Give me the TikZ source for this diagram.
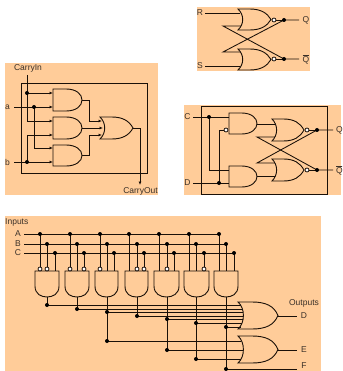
\documentclass[tikz,border=0pt]{standalone}
\usepackage{fontspec}
\setmainfont{Liberation Sans}
\usetikzlibrary{arrows.meta}
\definecolor{panel}{HTML}{FFCC99}
\definecolor{ink}{HTML}{1A1008}
\definecolor{txt}{HTML}{3A3028}
\tikzset{
  wire/.style={draw=ink,line width=0.85pt,line join=miter},
  arrowwire/.style={wire,-{Latex[length=3.5pt,width=3pt]}},
  gateline/.style={draw=ink,line width=0.9pt,fill=panel},
  lab/.style={text=txt,font=\fontsize{8.5}{9}\selectfont,inner sep=0pt},
  dot/.style={fill=black,draw=none},
  bubble/.style={fill=white,draw=ink,line width=0.75pt},
  panelbox/.style={fill=panel,draw=none},
  frame/.style={draw=ink,line width=1pt}
}
% horizontal AND: x1,y1,x2,y2
\newcommand{\andh}[4]{%
  \pgfmathsetmacro{\xm}{#1+0.45*(#3-#1)}%
  \pgfmathsetmacro{\ym}{(#2+#4)/2}%
  \pgfmathsetmacro{\xc}{#1+0.8*(#3-#1)}%
  \draw[gateline] (#1,#2) -- (\xm,#2) .. controls (\xc,#2) and (#3,#2+5) .. (#3,\ym)
    .. controls (#3,#4-5) and (\xc,#4) .. (\xm,#4) -- (#1,#4) -- cycle;}
% vertical AND: x1,y1,x2,y2
\newcommand{\andv}[4]{%
  \pgfmathsetmacro{\xm}{(#1+#3)/2}%
  \pgfmathsetmacro{\ym}{#2+0.58*(#4-#2)}%
  \draw[gateline] (#1,#2) -- (#3,#2) -- (#3,\ym) .. controls (#3,#4-3) and (\xm+6,#4) .. (\xm,#4)
    .. controls (\xm-6,#4) and (#1,#4-3) .. (#1,\ym) -- cycle;}
% horizontal OR: x1,y1,x2,y2
\newcommand{\orh}[4]{%
  \pgfmathsetmacro{\ym}{(#2+#4)/2}%
  \pgfmathsetmacro{\xa}{#1+0.35*(#3-#1)}%
  \pgfmathsetmacro{\xb}{#1+0.7*(#3-#1)}%
  \pgfmathsetmacro{\xk}{#1+0.13*(#3-#1)}%
  \draw[gateline] (#1,#2) -- (\xa,#2) .. controls (\xb,#2) and (#3-4,#2+4) .. (#3,\ym)
    .. controls (#3-4,#4-4) and (\xb,#4) .. (\xa,#4) -- (#1,#4)
    .. controls (\xk+2,#4-6) and (\xk+2,#2+6) .. (#1,#2) -- cycle;}
\newcommand{\dotat}[1]{\fill[dot] (#1) circle (2);}
\newcommand{\bubbleat}[1]{\draw[bubble] (#1) circle (2);}
\begin{document}
\begin{tikzpicture}[x=1pt,y=-1pt]
\clip (0,0) rectangle (342,371);
\fill[white] (0,0) rectangle (342,371);
% ---- panels
\fill[panelbox] (197,7) rectangle (310,71);
\fill[panelbox] (5,63) rectangle (158,195);
\fill[panelbox] (184,105) rectangle (341,195);
\fill[panelbox] (5,216) rectangle (321,371);

% ---- RS latch
\coordinate (rsR) at (205,13); \coordinate (rsRg) at (240,13);
\coordinate (rsS) at (205,66); \coordinate (rsSg) at (240,66);
\coordinate (rsQd) at (284,20); \coordinate (rsNd) at (284,59);
\coordinate (rsQe) at (299,20); \coordinate (rsNe) at (299,59);
\coordinate (rsA) at (223,26); \coordinate (rsAg) at (241,26);
\coordinate (rsB) at (223,52); \coordinate (rsBg) at (241,52);
\coordinate (rsTb) at (274,20); \coordinate (rsLb) at (274,59);
\draw[wire] (rsR) -- (rsRg);
\draw[wire] (rsS) -- (rsSg);
\draw[wire] (rsAg) -- (rsA) -- (rsNd) -- (rsNe);
\draw[wire] (rsBg) -- (rsB) -- (rsQd) -- (rsQe);
\draw[wire] (rsTb) -- (rsQd);
\draw[wire] (rsLb) -- (rsNd);
\orh{238}{9}{271}{30}
\orh{238}{49}{271}{70}
\bubbleat{rsTb} \bubbleat{rsLb} \dotat{rsQd} \dotat{rsNd}
\node[lab] (tR) at (200,13) {R};
\node[lab] (tS) at (200,66) {S};
\node[lab] (tQ) at (306,20) {Q};
\node[lab] (tNQ) at (306,59) {$\overline{\mbox{Q}}$};

% ---- Carry out
\draw[frame] (21,84) rectangle (147,173);
\coordinate (ciT) at (27,75); \coordinate (ciA) at (27,93); \coordinate (ciB) at (27,121);
\coordinate (g1a) at (53,93); \coordinate (g2a) at (53,121);
\coordinate (aS) at (14,107); \coordinate (aD) at (34,107); \coordinate (g1b) at (53,107);
\coordinate (aB) at (34,148); \coordinate (g3a) at (53,148);
\coordinate (bS) at (14,162); \coordinate (bD) at (27,162); \coordinate (g3b) at (53,162);
\coordinate (bU) at (27,135); \coordinate (g2b) at (53,135);
\coordinate (o1) at (82,100); \coordinate (o1k) at (89,100); \coordinate (o1j) at (89,121); \coordinate (oa) at (102,121);
\coordinate (o2) at (82,128); \coordinate (ob) at (103,128);
\coordinate (o3) at (82,155); \coordinate (o3k) at (89,155); \coordinate (o3j) at (89,135); \coordinate (oc) at (102,135);
\coordinate (ot) at (133,128); \coordinate (otk) at (140,128); \coordinate (ote) at (140,185);
\draw[wire] (ciT) -- (ciB);
\draw[wire] (aD) -- (aB);
\draw[wire] (bD) -- (bU);
\draw[wire] (o1) -- (o1k) -- (o1j);
\draw[wire] (o3) -- (o3k) -- (o3j);
\draw[arrowwire] (ot) -- (otk) -- (ote);
\andh{53}{89}{82}{111}
\andh{53}{117}{82}{139}
\andh{53}{145}{82}{166}
\orh{100}{117}{133}{139}
\draw[arrowwire] (ciB) -- (g2a);
\draw[arrowwire] (ciA) -- (g1a);
\draw[arrowwire] (aS) -- (g1b);
\draw[arrowwire] (aB) -- (g3a);
\draw[arrowwire] (bS) -- (g3b);
\draw[arrowwire] (bU) -- (g2b);
\draw[arrowwire] (o1j) -- (oa);
\draw[arrowwire] (o2) -- (ob);
\draw[arrowwire] (o3j) -- (oc);
\dotat{ciA} \dotat{aD} \dotat{bD}
\node[lab] (tCI) at (28,68) {CarryIn};
\node[lab] (ta) at (7.5,107) {a};
\node[lab] (tb) at (7.5,162) {b};
\node[lab] (tCO) at (140.5,191) {CarryOut};

% ---- D latch
\draw[frame] (201,107) rectangle (327,194);
\coordinate (dC) at (193,117); \coordinate (dCd) at (209,117); \coordinate (dCg) at (229,117);
\coordinate (dCb) at (209,170); \coordinate (dCc) at (229,170);
\coordinate (dD) at (193,183); \coordinate (dDd) at (219,183); \coordinate (dDg) at (229,183);
\coordinate (dDu) at (219,130); \coordinate (dDb) at (226,130);
\coordinate (dA1) at (257,124); \coordinate (dA1e) at (275,124);
\coordinate (dA2) at (257,176); \coordinate (dA2e) at (275,176);
\coordinate (dX1) at (257,137); \coordinate (dX1e) at (275,137);
\coordinate (dX2) at (257,163); \coordinate (dX2e) at (275,163);
\coordinate (dT) at (307,130); \coordinate (dTd) at (317,130); \coordinate (dTe) at (333,130);
\coordinate (dB) at (307,170); \coordinate (dBd) at (317,170); \coordinate (dBe) at (333,170);
\draw[wire] (dC) -- (dCg);
\draw[wire] (dCd) -- (dCb) -- (dCc);
\draw[wire] (dD) -- (dDg);
\draw[wire] (dDd) -- (dDu) -- (dDb);
\draw[wire] (dA1) -- (dA1e);
\draw[wire] (dA2) -- (dA2e);
\draw[wire] (dX1e) -- (dX1) -- (dBd) -- (dBe);
\draw[wire] (dX2e) -- (dX2) -- (dTd) -- (dTe);
\draw[wire] (dT) -- (dTd);
\draw[wire] (dB) -- (dBd);
\andh{229}{113}{257}{134}
\andh{229}{166}{257}{187}
\orh{272}{119}{304}{141}
\orh{272}{159}{304}{181}
\bubbleat{dDb} \bubbleat{dT} \bubbleat{dB}
\dotat{dCd} \dotat{dDd} \dotat{dTd} \dotat{dBd}
\node[lab] (tC) at (187.5,117) {C};
\node[lab] (tD) at (187.5,183) {D};
\node[lab] (tQ2) at (339.5,130) {Q};
\node[lab] (tNQ2) at (339.5,170) {$\overline{\mbox{Q}}$};

% ---- Decoder
\node[lab,anchor=west] (tIn) at (5,222) {Inputs};
\node[lab] (tA) at (18,234) {A};
\node[lab] (tB) at (18,244) {B};
\node[lab] (tCc) at (18,253) {C};
\coordinate (aL) at (24,234); \coordinate (aR) at (219,234);
\coordinate (bL) at (24,244); \coordinate (bR) at (226,244);
\coordinate (cL) at (24,253); \coordinate (cR) at (234,253);
\draw[wire] (aL) -- (aR);
\draw[wire] (bL) -- (bR);
\draw[wire] (cL) -- (cR);
\foreach \n/\xa/\xb/\xc in {1/40/47/55,2/70/77/84,3/100/107/114,4/129/137/144,5/159/167/174,6/189/196/204,7/219/226/234}{
  \draw[wire] (\xa,234) -- (\xa,271);
  \draw[wire] (\xb,244) -- (\xb,271);
  \draw[wire] (\xc,253) -- (\xc,271);
  \fill[dot] (\xa,234) circle (2);
  \fill[dot] (\xb,244) circle (2);
  \fill[dot] (\xc,253) circle (2);
}
\coordinate (D1) at (47,305); \coordinate (D1e) at (241,305);
\coordinate (D2) at (77,309); \coordinate (D2e) at (242,309);
\coordinate (D3) at (107,312); \coordinate (D3e) at (243,312);
\coordinate (D4) at (137,316); \coordinate (D4e) at (243,316);
\coordinate (D5) at (167,319); \coordinate (D5e) at (243,319);
\coordinate (D6) at (196,323); \coordinate (D6e) at (242,323);
\coordinate (D7) at (226,327); \coordinate (D7e) at (241,327);
\coordinate (E1) at (107,341); \coordinate (E1e) at (241,341);
\coordinate (E2) at (167,350); \coordinate (E2e) at (243,350);
\coordinate (E3) at (196,359); \coordinate (E3e) at (241,359);
\coordinate (F1) at (226,369); \coordinate (F1e) at (297,369);
\coordinate (Dt) at (278,316); \coordinate (Dte) at (297,316);
\coordinate (Et) at (278,350); \coordinate (Ete) at (297,350);
\foreach \p/\q in {F1/F1e,Dt/Dte,Et/Ete}{
  \draw[wire] (\p) -- (\q);
}
\draw[wire] (47,297) -- (D1);
\draw[wire] (77,297) -- (D2);
\draw[wire] (107,297) -- (E1);
\draw[wire] (137,297) -- (D4);
\draw[wire] (167,297) -- (E2);
\draw[wire] (196,297) -- (E3);
\draw[wire] (226,297) -- (F1);
\andv{35}{271}{59}{297}
\andv{65}{271}{89}{297}
\andv{95}{271}{118}{297}
\andv{125}{271}{148}{297}
\andv{154}{271}{179}{297}
\andv{184}{271}{209}{297}
\andv{214}{271}{238}{297}
\orh{238}{302}{278}{329}
\orh{238}{336}{278}{363}
\foreach \p/\q in {D1/D1e,D2/D2e,D3/D3e,D4/D4e,D5/D5e,D6/D6e,D7/D7e,E1/E1e,E2/E2e,E3/E3e}{
  \draw[wire] (\p) -- (\q);
}
\foreach \p in {D1,D2,D3,D4,D5,D6,D7,E1,E2,E3,F1}{\fill[dot] (\p) circle (2);}
\foreach \x/\y in {40/269,47/269,70/269,84/269,100/269,137/269,144/269,167/269,204/269}{
  \draw[bubble] (\x,\y) circle (2);
}
\node[lab] (tOut) at (304,303) {Outputs};
\node[lab] (tDo) at (304,316) {D};
\node[lab] (tEo) at (304,350) {E};
\node[lab] (tFo) at (304,365.5) {F};
\end{tikzpicture}
\end{document}
